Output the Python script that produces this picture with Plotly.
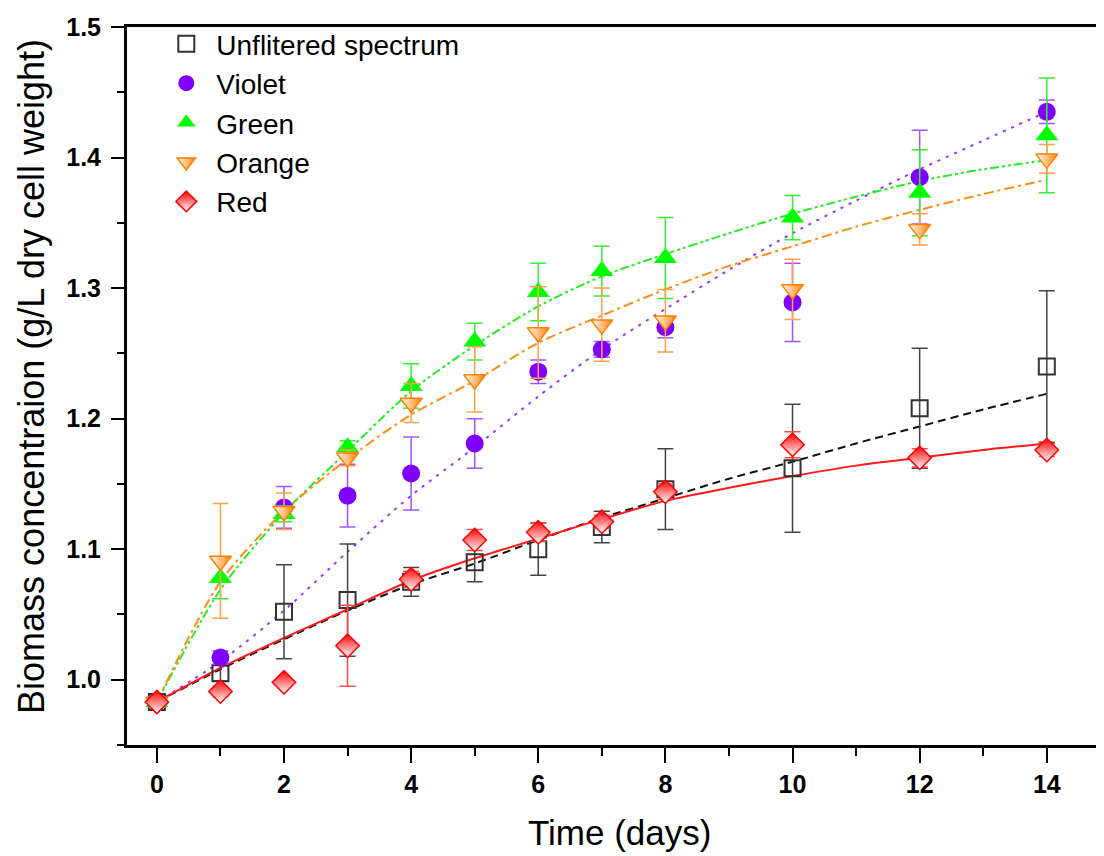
import plotly.graph_objects as go

# ---------------- data ----------------
days = [0, 1, 2, 3, 4, 5, 6, 7, 8, 10, 12, 14]

unfiltered = [0.983, 1.005, 1.052, 1.061, 1.075, 1.090, 1.100, 1.117, 1.146, 1.162, 1.208, 1.240]
unfiltered_err = [0.004, 0.006, 0.036, 0.043, 0.011, 0.015, 0.020, 0.012, 0.031, 0.049, 0.046, 0.058]

violet = [0.983, 1.017, 1.132, 1.141, 1.158, 1.181, 1.236, 1.253, 1.270, 1.289, 1.385, 1.435]
violet_err = [0.003, 0.005, 0.016, 0.024, 0.028, 0.019, 0.009, 0.006, 0.008, 0.030, 0.036, 0.009]

green = [0.983, 1.078, 1.127, 1.178, 1.225, 1.259, 1.297, 1.313, 1.323, 1.354, 1.373, 1.417]
green_err = [0.004, 0.016, 0.006, 0.005, 0.017, 0.014, 0.022, 0.019, 0.031, 0.017, 0.033, 0.044]

orange = [0.983, 1.091, 1.129, 1.170, 1.212, 1.230, 1.266, 1.272, 1.275, 1.299, 1.345, 1.399]
orange_err = [0.004, 0.044, 0.014, 0.006, 0.015, 0.025, 0.035, 0.028, 0.024, 0.023, 0.012, 0.011]

red = [0.983, 0.991, 0.998, 1.026, 1.077, 1.107, 1.113, 1.121, 1.144, 1.180, 1.170, 1.176]
red_err = [0.003, 0.004, 0.003, 0.031, 0.006, 0.008, 0.007, 0.005, 0.006, 0.010, 0.007, 0.005]

# fitted curves at whole days
fit_days = [0, 1, 2, 3, 4, 5, 6, 7, 8, 9, 10, 11, 12, 13, 14]
fit_unfiltered = [0.983, 1.008, 1.031, 1.053, 1.073, 1.089, 1.107, 1.124, 1.139, 1.154, 1.167, 1.181, 1.194, 1.207, 1.219]
fit_violet = [0.983, 1.014, 1.053, 1.098, 1.141, 1.178, 1.217, 1.253, 1.284, 1.314, 1.342, 1.367, 1.391, 1.413, 1.435]
fit_green = [0.983, 1.069, 1.128, 1.175, 1.221, 1.256, 1.286, 1.309, 1.326, 1.342, 1.357, 1.370, 1.382, 1.391, 1.398]
fit_orange = [0.983, 1.075, 1.129, 1.169, 1.203, 1.229, 1.258, 1.279, 1.299, 1.317, 1.332, 1.347, 1.360, 1.372, 1.383]
fit_red = [0.983, 1.009, 1.032, 1.054, 1.076, 1.093, 1.108, 1.123, 1.137, 1.147, 1.156, 1.164, 1.170, 1.176, 1.181]

series_names = ["Unflitered spectrum", "Violet", "Green", "Orange", "Red"]

x_ticks = [0, 2, 4, 6, 8, 10, 12, 14]
y_ticks = [1.0, 1.1, 1.2, 1.3, 1.4, 1.5]

x_title = "Time (days)"
y_title = "Biomass concentraion (g/L dry cell weight)"

FONT = "Arial, Liberation Sans, sans-serif"

fig = go.Figure()

# fitted lines (not in legend)
fits = [
    (fit_unfiltered, "#111111", "8px,5px"),
    (fit_violet, "#9933FF", "3px,6px"),
    (fit_green, "#22EE22", "9px,3px,3px,3px,3px,3px"),
    (fit_orange, "#FF8C1A", "10px,4px,3px,4px"),
    (fit_red, "#FF1A1A", "solid"),
]
for ys, col, dash in fits:
    fig.add_trace(go.Scatter(
        x=fit_days, y=ys, mode="lines", showlegend=False, hoverinfo="skip",
        line=dict(color=col, width=2, dash=dash, shape="spline", smoothing=0.8),
    ))

marker_styles = [
    dict(symbol="square-open", size=16, color="#333333", line=dict(width=2, color="#333333")),
    dict(symbol="circle", size=18, color="#8000FF", line=dict(width=0)),
    dict(symbol="triangle-up", size=20, color="#00FF00", line=dict(width=0)),
    dict(symbol="triangle-down", size=19, color="#FFFFFF",
         gradient=dict(type="horizontal", color="#FF8000"),
         line=dict(width=1.5, color="#FF8000")),
    dict(symbol="diamond", size=18, color="#FF0000",
         gradient=dict(type="vertical", color="#FFFFFF"),
         line=dict(width=1.5, color="#FF0000")),
]
error_colors = ["#444444", "#A055FF", "#33F033", "#FFA04A", "#FF4A4A"]
values = [unfiltered, violet, green, orange, red]
errors = [unfiltered_err, violet_err, green_err, orange_err, red_err]

for name, ys, err, mk, ecol in zip(series_names, values, errors, marker_styles, error_colors):
    fig.add_trace(go.Scatter(
        x=days, y=ys, mode="markers", name=name, marker=mk,
        error_y=dict(type="data", array=err, visible=True, color=ecol, thickness=1.5, width=8),
    ))

# the page body adds an 8px offset; the figure is sized to fit the 1104x856 window
fig.update_layout(
    width=1096, height=848,
    margin=dict(l=119, r=0, t=19, b=111, autoexpand=False),
    paper_bgcolor="white", plot_bgcolor="white",
    font=dict(family=FONT, color="black"),
    legend=dict(
        x=0.03, y=1.011, xanchor="left", yanchor="top",
        font=dict(size=28, family=FONT, color="black"),
        bgcolor="rgba(0,0,0,0)", itemsizing="trace", itemwidth=50, tracegroupgap=0,
    ),
    annotations=[
        dict(text=x_title, xref="paper", yref="paper", x=0.5036, y=-0.122,
             xanchor="center", yanchor="middle", showarrow=False,
             font=dict(size=35, family=FONT, color="black")),
        dict(text=y_title, xref="paper", yref="paper", x=-0.098, y=0.513,
             xanchor="center", yanchor="middle", showarrow=False, textangle=-90,
             font=dict(size=36, family=FONT, color="black")),
    ],
)
fig.update_xaxes(
    range=[-0.47, 14.9], tickvals=x_ticks, ticktext=[str(v) for v in x_ticks],
    showgrid=False, zeroline=False, automargin=False,
    showline=True, linecolor="black", linewidth=3, mirror=True,
    ticks="outside", ticklen=15, tickwidth=2, tickcolor="black",
    minor=dict(dtick=1, tick0=0, ticks="outside", ticklen=8, tickwidth=2, tickcolor="black"),
    tickfont=dict(size=25, family=FONT, weight="bold"),
    ticklabelstandoff=0,
)
fig.update_yaxes(
    range=[0.95, 1.5], tickvals=y_ticks, ticktext=["%.1f" % v for v in y_ticks],
    showgrid=False, zeroline=False, automargin=False,
    showline=True, linecolor="black", linewidth=3, mirror=False,
    ticks="outside", ticklen=13, tickwidth=2, tickcolor="black",
    minor=dict(dtick=0.05, tick0=1.0, ticks="outside", ticklen=7, tickwidth=2, tickcolor="black"),
    tickfont=dict(size=25, family=FONT, weight="bold"),
    ticklabelstandoff=5,
)

fig.write_html("out.html")
